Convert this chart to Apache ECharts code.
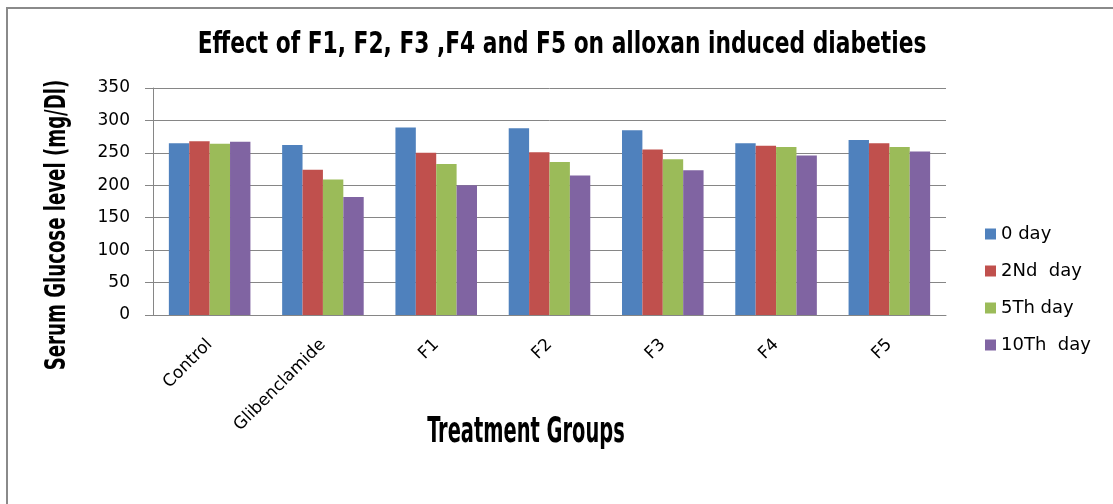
<!DOCTYPE html>
<html>
<head>
<meta charset="utf-8">
<script src="https://cdn.jsdelivr.net/npm/echarts@6/dist/echarts.min.js"></script>
<style>
html,body{margin:0;padding:0;background:#fff;overflow:hidden;}
#frame{position:absolute;left:6px;top:7px;width:1200px;height:600px;border-top:2px solid #8a8a8a;border-left:2px solid #8a8a8a;}
#chart{position:absolute;left:0;top:0;width:1113px;height:504px;}
</style>
</head>
<body>
<div id="frame"></div>
<div id="chart"></div>
<script>
var categories = ['Control', 'Glibenclamide', 'F1', 'F2', 'F3', 'F4', 'F5'];
var seriesNames = ['0 day', '2Nd  day', '5Th day', '10Th  day'];
var day0  = [265, 262, 289, 288, 285, 265, 270];
var day2  = [268, 224, 250, 251, 255, 261, 265];
var day5  = [264, 209, 233, 236, 240, 259, 259];
var day10 = [267, 182, 200, 215, 223, 246, 252];
var yTicks = [0, 50, 100, 150, 200, 250, 300, 350];
var titleText = 'Effect of F1, F2, F3 ,F4 and F5 on alloxan induced diabeties';
var xName = 'Treatment Groups';
var yName = 'Serum Glucose level (mg/Dl)';

var colors = ['#4F81BD', '#C0504D', '#9BBB59', '#8064A2'];
var allData = [day0, day2, day5, day10];

var chart = echarts.init(document.getElementById('chart'), null, {renderer: 'canvas'});
var condensed = '"DejaVu Sans Condensed", "Liberation Sans Narrow", sans-serif';
var series = allData.map(function (d, i) {
  return {
    name: seriesNames[i],
    type: 'bar',
    data: d,
    barGap: '0%',
    barCategoryGap: '28%',
    itemStyle: {color: colors[i]},
    animation: false
  };
});

chart.setOption({
  animation: false,
  graphic: [
    {type: 'text', x: 562, y: 45, scaleX: 0.78, silent: true,
     style: {text: titleText, font: 'bold 31px ' + condensed, fill: '#000', align: 'center', verticalAlign: 'middle'}},
    {type: 'text', x: 526, y: 433, scaleX: 0.6, silent: true,
     style: {text: xName, font: 'bold 36px ' + condensed, fill: '#000', align: 'center', verticalAlign: 'middle'}},
    {type: 'text', x: 58, y: 225, rotation: Math.PI / 2, scaleX: 0.72, silent: true,
     style: {text: yName, font: 'bold 28px ' + condensed, fill: '#000', align: 'center', verticalAlign: 'middle'}}
  ],
  legend: {
    orient: 'vertical',
    left: 985,
    top: 225,
    padding: 0,
    itemWidth: 11,
    itemHeight: 11,
    itemGap: 19,
    icon: 'rect',
    data: seriesNames,
    textStyle: {fontFamily: '"DejaVu Sans", sans-serif', fontSize: 18, color: '#000'}
  },
  grid: {left: 153, right: 167, top: 88, bottom: 189, containLabel: false},
  xAxis: {
    type: 'category',
    data: categories,
    axisLine: {lineStyle: {color: '#868686', width: 1}},
    axisTick: {show: false},
    axisLabel: {rotate: 45, margin: 27, fontFamily: '"DejaVu Sans", sans-serif', fontSize: 17, color: '#000', interval: 0}
  },
  yAxis: {
    type: 'value',
    min: 0,
    max: 350,
    interval: 50,
    axisLine: {show: true, lineStyle: {color: '#868686', width: 1}},
    axisTick: {show: true, length: 8, lineStyle: {color: '#868686'}},
    axisLabel: {
      margin: 23,
      fontFamily: '"DejaVu Sans", sans-serif',
      fontSize: 17,
      color: '#000',
      formatter: function (v) { return yTicks.indexOf(v) >= 0 ? String(v) : ''; }
    },
    splitLine: {show: true, lineStyle: {color: '#868686', width: 1}}
  },
  series: series
});
</script>
</body>
</html>
